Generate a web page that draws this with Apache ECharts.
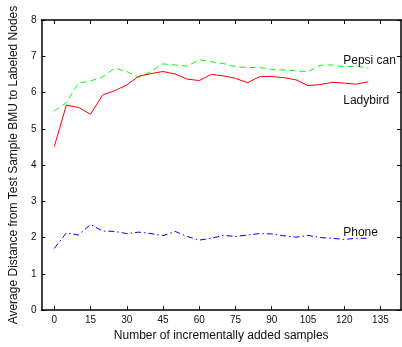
<!DOCTYPE html>
<html>
<head>
<meta charset="utf-8">
<style>
  html, body { margin: 0; padding: 0; background: #fff; }
  #chart { width: 402px; height: 347px; }
</style>
<script src="https://cdn.jsdelivr.net/npm/echarts@6/dist/echarts.min.js"></script>
</head>
<body>
<div id="chart"></div>
<script>
// Number of incrementally added samples
const samples = [0, 5, 10, 15, 20, 25, 30, 35, 40, 45, 50, 55, 60, 65, 70, 75, 80, 85, 90, 95, 100, 105, 110, 115, 120, 125, 130];

// Average distance from test-sample BMU to labeled nodes
const pepsiCan = [5.49, 5.72, 6.26, 6.32, 6.43, 6.67, 6.58, 6.42, 6.58, 6.79, 6.76, 6.73, 6.90, 6.85, 6.80, 6.71, 6.69, 6.69, 6.64, 6.62, 6.60, 6.57, 6.75, 6.76, 6.71, 6.73, 6.67];
const ladybird = [4.51, 5.65, 5.59, 5.40, 5.93, 6.05, 6.21, 6.45, 6.52, 6.58, 6.51, 6.37, 6.33, 6.50, 6.46, 6.39, 6.27, 6.44, 6.44, 6.41, 6.35, 6.19, 6.22, 6.28, 6.26, 6.23, 6.30];
const phone    = [1.70, 2.13, 2.07, 2.36, 2.18, 2.17, 2.11, 2.15, 2.11, 2.05, 2.17, 2.03, 1.93, 1.98, 2.06, 2.03, 2.07, 2.11, 2.10, 2.05, 2.01, 2.06, 2.00, 1.98, 1.95, 1.98, 1.98];

const xTicks = [0, 15, 30, 45, 60, 75, 90, 105, 120, 135];

const seriesNames = ['Pepsi can', 'Ladybird', 'Phone'];

const FONT = '"Liberation Sans", Arial, Helvetica, sans-serif';
const INK = '#111';

const pairs = ys => samples.map((x, i) => [x, ys[i]]);

// In-plot name tag placed at a data coordinate
const tag = (text, coord) => ({
  silent: true,
  symbol: 'circle',
  symbolSize: 0,
  animation: false,
  label: {
    show: true,
    position: 'right',
    distance: 0,
    formatter: text,
    color: INK,
    fontFamily: FONT,
    fontSize: 12
  },
  data: [{ coord: coord }]
});

const boxAxisLine = { show: true, onZero: false, lineStyle: { color: '#000', width: 1.5 } };
const inTicks = { show: true, inside: true, length: 4, lineStyle: { color: '#000', width: 1 } };

const chart = echarts.init(document.getElementById('chart'), null, { renderer: 'canvas' });

chart.setOption({
  animation: false,
  backgroundColor: '#fff',
  grid: { left: 35, right: 1, top: 20, bottom: 36, containLabel: false },
  xAxis: [
    {
      type: 'value',
      min: -5.3,
      max: 143.5,
      position: 'bottom',
      axisLine: boxAxisLine,
      axisTick: Object.assign({ customValues: xTicks }, inTicks),
      axisLabel: {
        customValues: xTicks,
        color: INK,
        fontFamily: FONT,
        fontSize: 10,
        margin: 5
      },
      splitLine: { show: false },
      name: 'Number of incrementally added samples',
      nameLocation: 'middle',
      nameGap: 15,
      nameTextStyle: { color: INK, fontFamily: FONT, fontSize: 12 }
    },
    {
      type: 'value',
      min: -5.3,
      max: 143.5,
      position: 'top',
      axisLine: boxAxisLine,
      axisTick: Object.assign({ customValues: xTicks }, inTicks),
      axisLabel: { show: false },
      splitLine: { show: false }
    }
  ],
  yAxis: [
    {
      type: 'value',
      min: 0,
      max: 8,
      interval: 1,
      position: 'left',
      axisLine: boxAxisLine,
      axisTick: inTicks,
      axisLabel: {
        color: INK,
        fontFamily: FONT,
        fontSize: 10,
        margin: 5
      },
      splitLine: { show: false },
      name: 'Average Distance from Test Sample BMU to Labeled Nodes',
      nameLocation: 'middle',
      nameGap: 13,
      nameRotate: 90,
      nameTextStyle: { color: INK, fontFamily: FONT, fontSize: 12 }
    },
    {
      type: 'value',
      min: 0,
      max: 8,
      interval: 1,
      position: 'right',
      axisLine: boxAxisLine,
      axisTick: inTicks,
      axisLabel: { show: false },
      splitLine: { show: false }
    }
  ],
  series: [
    {
      name: seriesNames[0],
      type: 'line',
      data: pairs(pepsiCan),
      showSymbol: false,
      lineStyle: { color: '#00ff00', width: 1, type: [6, 4] },
      markPoint: tag(seriesNames[0], [119.6, 6.87])
    },
    {
      name: seriesNames[1],
      type: 'line',
      data: pairs(ladybird),
      showSymbol: false,
      lineStyle: { color: '#ff0000', width: 1, type: 'solid' },
      markPoint: tag(seriesNames[1], [119.6, 5.78])
    },
    {
      name: seriesNames[2],
      type: 'line',
      data: pairs(phone),
      showSymbol: false,
      lineStyle: { color: '#0000ff', width: 1, type: [6, 3, 1.5, 3] },
      markPoint: tag(seriesNames[2], [119.6, 2.13])
    }
  ]
});
</script>
</body>
</html>
